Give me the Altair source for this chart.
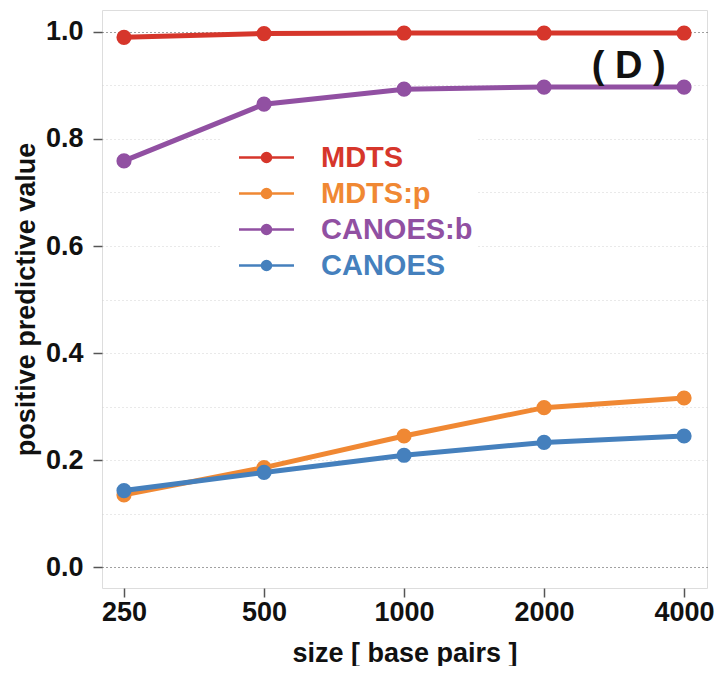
import altair as alt
import pandas as pd

# ---- data ----
sizes = [250, 500, 1000, 2000, 4000]
series = ["MDTS", "MDTS:p", "CANOES:b", "CANOES"]
series_colors = ["#D6362B", "#F08833", "#9150A2", "#4580BD"]
mdts = [0.990, 0.997, 0.998, 0.998, 0.998]
mdts_p = [0.135, 0.186, 0.245, 0.298, 0.316]
canoes_b = [0.759, 0.865, 0.893, 0.897, 0.897]
canoes = [0.143, 0.177, 0.209, 0.233, 0.245]
y_tick_values = [0.0, 0.1, 0.2, 0.3, 0.4, 0.5, 0.6, 0.7, 0.8, 0.9, 1.0]
panel_label = ["( D )"]
panel_label_size = [3040]
panel_label_value = [0.935]

values_by_series = [mdts, mdts_p, canoes_b, canoes]
rows = []
for name, vals in zip(series, values_by_series):
    for s, v in zip(sizes, vals):
        rows.append({"size": s, "ppv": v, "method": name})
df = pd.DataFrame(rows)
label_df = pd.DataFrame({"size": panel_label_size, "ppv": panel_label_value, "text": panel_label})

FONT = "Liberation Sans"

x_enc = alt.X(
    "size:Q",
    scale=alt.Scale(type="log", base=2, domain=[224.2, 4481], nice=False),
    axis=alt.Axis(
        values=sizes, format="d", title="size [ base pairs ]", grid=False, domain=False,
        tickSize=9, tickColor="#555", tickWidth=1.5, labelPadding=2,
        labelFontSize=27, labelFontWeight="bold", labelFont=FONT, labelColor="#111",
        titleFontSize=27, titleFontWeight="bold", titleFont=FONT, titleColor="#111",
        titlePadding=15, labelFlush=False,
    ),
)
y_enc = alt.Y(
    "ppv:Q",
    scale=alt.Scale(domain=[-0.039, 1.041], nice=False, zero=False),
    axis=alt.Axis(
        values=y_tick_values,
        labelExpr="round(datum.value*10) % 2 == 0 ? format(datum.value, '.1f') : ''",
        title="positive predictive value", domain=False, grid=True,
        gridColor={"condition": {"test": "datum.value < 0.05 || datum.value > 0.95", "value": "#444"}, "value": "#d4d4d4"},
        gridDash=[1, 3], gridWidth=1.2,
        tickOpacity={"condition": {"test": "round(datum.value*10) % 2 == 1", "value": 0}, "value": 1},
        tickSize=9, tickColor="#555", tickWidth=1.5, labelPadding=10,
        labelFontSize=27, labelFontWeight="bold", labelFont=FONT, labelColor="#111",
        titleFontSize=27, titleFontWeight="bold", titleFont=FONT, titleColor="#111",
        titlePadding=5, labelFlush=False,
    ),
)

legend = alt.Legend(
    title=None, orient="none", legendX=118, legendY=129,
    fillColor="white", padding=4,
    symbolType="M-5.5,0H5.5M0.9,0A0.9,0.9 0 1,1 -0.9,0A0.9,0.9 0 1,1 0.9,0Z",
    symbolSize=100, symbolStrokeWidth=2.5, symbolOffset=28,
    symbolStrokeColor={"expr": "scale('color', datum.value)"},
    symbolFillColor={"expr": "scale('color', datum.value)"},
    labelColor={"expr": "scale('color', datum.value)"},
    labelFontSize=29, labelFontWeight="bold", labelFont=FONT, labelOffset=40,
    rowPadding=6, labelLimit=400,
)
color_enc = alt.Color(
    "method:N",
    scale=alt.Scale(domain=series, range=series_colors),
    sort=series, legend=legend,
)

base = alt.Chart(df).encode(x=x_enc, y=y_enc, color=color_enc,
                            order=alt.Order("size:Q"))
lines = base.mark_line(strokeWidth=5)
points = base.mark_point(filled=True, size=230, opacity=1)

text = alt.Chart(label_df).mark_text(
    fontSize=38, fontWeight="bold", font=FONT, color="#111"
).encode(x="size:Q", y="ppv:Q", text="text:N")

chart = alt.layer(lines, points, text).properties(
    width=605, height=578,
    autosize=alt.AutoSizeParams(type="none"),
    padding={"left": 94, "top": 2, "right": 7, "bottom": 78},
).configure_view(stroke="#555", strokeWidth=1.5).configure(background="white")

chart.save("out.html", embed_options={"renderer": "svg", "actions": False})
